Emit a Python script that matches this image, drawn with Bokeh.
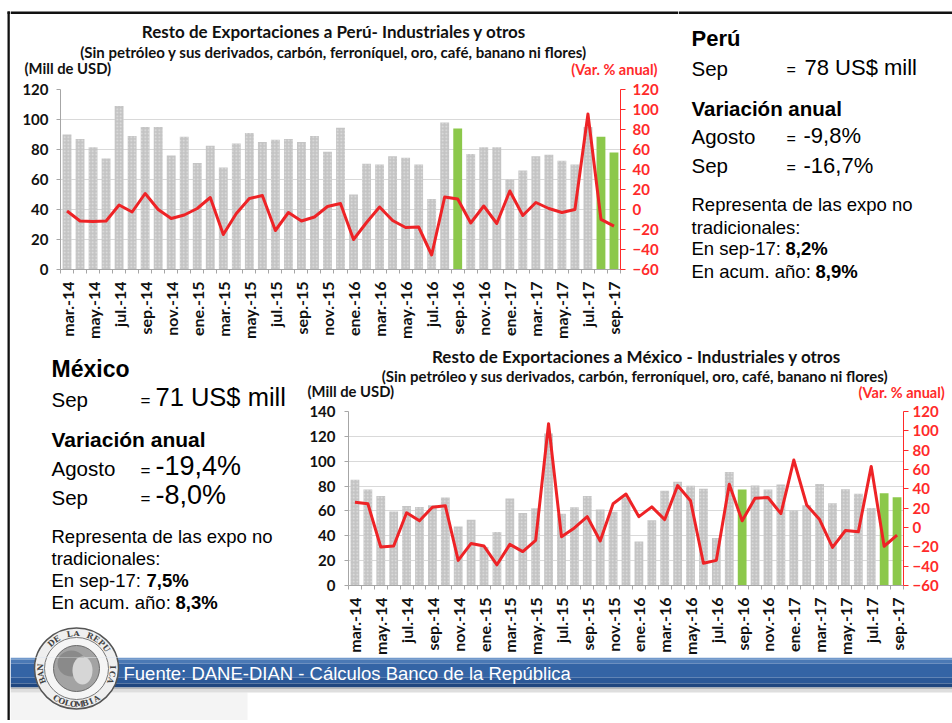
import math
from bokeh.plotting import figure
from bokeh.models import Range1d, LinearAxis, FixedTicker, Grid
from bokeh.layouts import row, column
from bokeh.core.properties import value
from bokeh.embed import file_html
from bokeh.resources import INLINE

# ---------------- data ----------------
months = ["mar.-14", "abr.-14", "may.-14", "jun.-14", "jul.-14", "ago.-14", "sep.-14", "oct.-14",
          "nov.-14", "dic.-14", "ene.-15", "feb.-15", "mar.-15", "abr.-15", "may.-15", "jun.-15",
          "jul.-15", "ago.-15", "sep.-15", "oct.-15", "nov.-15", "dic.-15", "ene.-16", "feb.-16",
          "mar.-16", "abr.-16", "may.-16", "jun.-16", "jul.-16", "ago.-16", "sep.-16", "oct.-16",
          "nov.-16", "dic.-16", "ene.-17", "feb.-17", "mar.-17", "abr.-17", "may.-17", "jun.-17",
          "jul.-17", "ago.-17", "sep.-17"]

peru_usd = [90, 87, 81.5, 74, 109, 89, 95, 95, 76, 88.5,
            71, 82.5, 68, 84, 91, 85, 86.5, 87, 85, 89,
            78.5, 94.5, 50, 70.5, 70, 75.5, 74.5, 70, 47, 98,
            94, 77, 81.5, 81.5, 60, 66, 75.5, 76.5, 72.5, 70,
            95, 88.5, 78]
peru_var = [-1.5, -11.5, -12, -11.5, 4.5, -2.5, 16, 0, -9, -5.5,
            1, 12, -25, -4, 11, 14, -21, -3, -11.5, -7.5,
            3, 6, -30, -13, 2.5, -11, -18, -17.5, -45.5, 12.5,
            10.5, -13.5, 3.5, -14, 18.5, -6, 7, 1, -3, 0,
            95.5, -9.8, -16.7]

mex_usd = [85, 77.3, 72, 59.6, 64, 63.2, 64.5, 70.8, 47.4, 53,
           31, 43, 70, 58.3, 62.2, 122.3, 57.8, 63, 72, 61.1,
           59.3, 71, 35.4, 52.6, 76.3, 83.5, 80.2, 77.8, 38.3, 91.3,
           77.3, 80.4, 77.3, 81.2, 60.4, 64.5, 81.7, 66.1, 77.5, 73.9,
           62.4, 74.2, 71]
mex_var = [26.2, 24.6, -20.2, -19.2, 15.2, 6.9, 21, 22.6, -34, -16.5,
           -19.2, -38.6, -17.5, -24.9, -13.2, 107.3, -9.5, -0.5, 11.2, -13.9,
           24.6, 34.6, 11.2, 21.3, 8.2, 43.4, 27.6, -37, -34, 44.7,
           6.9, 30.3, 31, 14.3, 69.8, 23.3, 8.2, -20.6, -3.1, -4.5,
           63.2, -19.4, -8.0]

highlight = [30, 41, 42]          # sep-16, ago-17, sep-17
peru_left_ticks = [0, 20, 40, 60, 80, 100, 120]
mex_left_ticks = [0, 20, 40, 60, 80, 100, 120, 140]
var_ticks = [-60, -40, -20, 0, 20, 40, 60, 80, 100, 120]

peru_title = "Resto de Exportaciones a Perú- Industriales y otros"
mex_title = "Resto de Exportaciones a México - Industriales y otros"
subtitle = "(Sin petróleo y sus derivados, carbón, ferroníquel, oro, café, banano ni flores)"
unit_left = "(Mill de USD)"
unit_right = "(Var. % anual)"
source = "Fuente: DANE-DIAN - Cálculos Banco de la República"

# ---------------- styles ----------------
GREY = "#c4c4c4"
GREEN = "#8cc84b"
RED = "#ee2326"
LRED = "#ff2a2a"
AXG = "#a6a6a6"
CHART_FONT = "Lato"
TXT_FONT = "Liberation Sans"


def no_align(p):
    try:
        p.frame_align = False
    except Exception:
        pass
    try:
        p.title = None
    except Exception:
        pass


def make_chart(w, h, borders, usd, var, lmax, lticks, lstand, rstand):
    bl, br, bt, bb = borders
    p = figure(width=w, height=h, x_range=Range1d(-0.5, len(months) - 0.5),
               y_range=Range1d(0, lmax), output_backend="svg", toolbar_location=None,
               x_axis_type=None, y_axis_type=None,
               min_border_left=bl, min_border_right=br, min_border_top=bt, min_border_bottom=bb)
    no_align(p)
    p.extra_y_ranges = {"var": Range1d(var_ticks[0], var_ticks[-1])}
    p.outline_line_color = None
    p.background_fill_color = "white"
    p.border_fill_color = "white"

    idx = list(range(len(months)))
    gx = [i for i in idx if i not in highlight]
    gt = [usd[i] for i in gx]
    hx = [i for i in idx if i in highlight]
    ht = [usd[i] for i in hx]

    yl = LinearAxis(ticker=FixedTicker(ticks=lticks))
    yl.axis_line_color = AXG
    yl.major_tick_line_color = AXG
    yl.major_tick_out = 4
    yl.major_tick_in = 0
    yl.major_label_standoff = lstand
    yl.major_label_text_font = CHART_FONT
    yl.major_label_text_font_style = "bold"
    yl.major_label_text_font_size = "15px"
    yl.major_label_text_color = "#111111"
    p.add_layout(yl, "left")

    yr = LinearAxis(y_range_name="var", ticker=FixedTicker(ticks=var_ticks))
    yr.axis_line_color = LRED
    yr.major_tick_line_color = LRED
    yr.major_tick_out = 5
    yr.major_tick_in = 0
    yr.major_label_standoff = rstand
    yr.major_label_text_font = CHART_FONT
    yr.major_label_text_font_style = "bold"
    yr.major_label_text_font_size = "15px"
    yr.major_label_text_color = LRED
    p.add_layout(yr, "right")

    xt = list(range(0, len(months), 2))
    xa = LinearAxis(ticker=FixedTicker(ticks=xt, minor_ticks=[i - 0.5 for i in range(len(months) + 1)]))
    xa.major_label_overrides = {i: months[i] for i in xt}
    xa.major_label_orientation = math.pi / 2
    xa.axis_line_color = AXG
    xa.major_tick_line_color = None
    xa.major_tick_out = 0
    xa.major_tick_in = 0
    xa.minor_tick_line_color = AXG
    xa.minor_tick_out = 4
    xa.minor_tick_in = 0
    xa.major_label_standoff = 8
    xa.major_label_text_font = CHART_FONT
    xa.major_label_text_font_style = "bold"
    xa.major_label_text_font_size = "16px"
    xa.major_label_text_color = "#111111"
    p.add_layout(xa, "below")

    p.add_layout(Grid(dimension=1, ticker=yl.ticker, grid_line_color="#d9d9d9", grid_line_width=1))

    p.vbar(x=gx, top=gt, width=0.68, fill_color=GREY, line_color=None,
           hatch_pattern="dot", hatch_color="white", hatch_alpha=0.5, hatch_scale=3.5, hatch_weight=1)
    p.vbar(x=hx, top=ht, width=0.68, fill_color=GREEN, line_color=None)
    p.line(x=idx, y=var, y_range_name="var", line_color=RED, line_width=3, line_join="round")
    return p


# panels use page pixel coordinates (x right, y down)
def panel(x0, y0, x1, y1):
    w, h = x1 - x0, y1 - y0
    p = figure(width=w, height=h, x_range=Range1d(x0, x1), y_range=Range1d(y1, y0),
               output_backend="svg", toolbar_location=None, x_axis_type=None, y_axis_type=None,
               min_border=0, min_border_left=0, min_border_right=0, min_border_top=0, min_border_bottom=0)
    no_align(p)
    p.outline_line_color = None
    p.grid.visible = False
    p.background_fill_color = "white"
    p.border_fill_color = "white"
    return p


BASE_SHIFT = 0.36   # rendered baseline sits ~0.36 em below the given y


def txt(p, x, y, s, size, bold=False, color="#000000", font=TXT_FONT, align="left"):
    p.text(x=[x], y=[y - BASE_SHIFT * size], text=[s], text_font=value(font),
           text_font_size=f"{size}px",
           text_font_style="bold" if bold else "normal", text_color=color,
           text_align=align, text_baseline="alphabetic")


def top_line(p, x0, x1):
    p.quad(left=[x0], right=[x1], top=[11], bottom=[13.5], fill_color="#111111", line_color=None)


# ---------------- Peru ----------------
head1 = panel(10, 0, 678, 79)
top_line(head1, 10, 678)
txt(head1, 333.5, 37.3, peru_title, 17, True, "#111111", CHART_FONT, "center")
txt(head1, 333, 57.3, subtitle, 15, True, "#111111", CHART_FONT, "center")
txt(head1, 24, 73.3, unit_left, 14.8, True, "#111111", CHART_FONT)
txt(head1, 570.7, 74, unit_right, 14.5, True, LRED, CHART_FONT)

p1 = make_chart(668, 266, (50, 58, 10, 76), peru_usd, peru_var, 120, peru_left_ticks, 8, 7)

t1 = panel(678, 0, 952, 345)
top_line(t1, 678, 952)
txt(t1, 691, 46, "Perú", 22, True)
txt(t1, 691, 75, "Sep", 20.5)
txt(t1, 786, 75, "=", 16)
txt(t1, 804, 75, "78 US$ mill", 22)
txt(t1, 691, 115, "Variación anual", 20.5, True)
txt(t1, 691, 143.3, "Agosto", 20.5)
txt(t1, 786, 143.3, "=", 16)
txt(t1, 803, 143.3, "-9,8%", 22)
txt(t1, 691, 172.7, "Sep", 20.5)
txt(t1, 786, 172.7, "=", 16)
txt(t1, 803, 172.7, "-16,7%", 22)
txt(t1, 691, 211, "Representa de las expo no", 18.5)
txt(t1, 691, 233.3, "tradicionales:", 18.5)
txt(t1, 691, 255, "En sep-17: ", 18.5)
txt(t1, 785, 255, "8,2%", 18.5, True)
txt(t1, 691, 277.3, "En acum. año: ", 18.5)
txt(t1, 815, 277.3, "8,9%", 18.5, True)

# ---------------- Mexico ----------------
head2 = panel(306, 345, 952, 401)
txt(head2, 636, 361.7, mex_title, 17, True, "#111111", CHART_FONT, "center")
txt(head2, 634.5, 380.7, subtitle, 15, True, "#111111", CHART_FONT, "center")
txt(head2, 307, 395.8, unit_left, 14.8, True, "#111111", CHART_FONT)
txt(head2, 858, 396.8, unit_right, 14.5, True, LRED, CHART_FONT)

p2 = make_chart(646, 256, (40, 49, 10, 67), mex_usd, mex_var, 140, mex_left_ticks, 9, 4)

t2 = panel(10, 345, 306, 657)
txt(t2, 51, 376.7, "México", 23, True)
txt(t2, 51, 406, "Sep", 20.5)
txt(t2, 140, 406, "=", 17)
txt(t2, 155, 406, "71 US$ mill", 25.5)
txt(t2, 51, 446.7, "Variación anual", 21, True)
txt(t2, 51, 475.7, "Agosto", 20.5)
txt(t2, 140, 475.7, "=", 17)
txt(t2, 155, 475.7, "-19,4%", 27)
txt(t2, 51, 504, "Sep", 20.5)
txt(t2, 140, 504, "=", 17)
txt(t2, 155, 504, "-8,0%", 27)
txt(t2, 51, 542.7, "Representa de las expo no", 18.5)
txt(t2, 51, 565, "tradicionales:", 18.5)
txt(t2, 51, 586.7, "En sep-17: ", 18.5)
txt(t2, 146, 586.7, "7,5%", 18.5, True)
txt(t2, 51, 608.3, "En acum. año: ", 18.5)
txt(t2, 175, 608.3, "8,3%", 18.5, True)

# ---------------- footer ----------------
foot = panel(10, 657, 952, 720)
foot.quad(left=[10], right=[247], top=[692], bottom=[720], fill_color="#f4f4f4", line_color=None)
strips = [(657, 659, "#7199cc"), (659, 663, "#4b79b5"), (663, 677, "#3464a5"), (677, 683, "#2b5897"),
          (683, 687, "#1f467f"), (687, 689, "#b8b8b8"), (689, 692, "#dedede")]
for a, b, c in strips:
    foot.quad(left=[10], right=[952], top=[a], bottom=[b], fill_color=c, line_color=None)
txt(foot, 123, 680, source, 18.5, color="white")

SPLIT = 657


def logo(p, cx, cy, keep):
    p.ellipse(x=[cx], y=[cy], width=84, height=81, fill_color="#efefef", line_color="#555555", line_width=1.5)
    p.ellipse(x=[cx], y=[cy], width=64, height=62, fill_color="#f5f5f5", line_color="#777777", line_width=1)
    p.ellipse(x=[cx], y=[cy], width=46, height=46, fill_color="#a3a3a3", line_color="#6a6a6a", line_width=1)
    p.ellipse(x=[cx - 5], y=[cy - 5], width=28, height=26, fill_color="#8a8a8a", line_color=None)
    p.ellipse(x=[cx + 6], y=[cy + 2], width=20, height=28, fill_color="#d6d6d6", line_color=None)
    r = 36.5
    xs, ys, ts, ang = [], [], [], []
    top_txt = "BANCO DE LA REPUBLICA"
    n = len(top_txt)
    items = []
    for k, ch in enumerate(top_txt):
        th = math.radians(200 - 220 * k / (n - 1))
        items.append((ch, th, th - math.pi / 2))
    bot = "COLOMBIA"
    m = len(bot)
    for k, ch in enumerate(bot):
        th = math.radians(237 + 66 * k / (m - 1))
        items.append((ch, th, th - 3 * math.pi / 2))
    for ch, th, a in items:
        if ch == " ":
            continue
        x = cx + r * math.cos(th)
        y = cy - r * 0.97 * math.sin(th)
        if keep(y):
            xs.append(x)
            ys.append(y)
            ts.append(ch)
            ang.append(a)
    if ts:
        p.text(x=xs, y=ys, text=ts, angle=ang, text_align="center", text_baseline="middle",
               text_font=value("DejaVu Serif"), text_font_style="bold", text_font_size="8px",
               text_color="#444444")


logo(t2, 76, 668, lambda y: y < SPLIT - 6.5)
logo(foot, 76, 668, lambda y: y > SPLIT + 6.5)

# ---------------- left frame line ----------------
leftbar = panel(0, 0, 10, 720)
leftbar.quad(left=[7], right=[9.3], top=[11], bottom=[720], fill_color="#111111", line_color=None)
leftbar.quad(left=[7], right=[10], top=[11], bottom=[13.5], fill_color="#111111", line_color=None)

layout = row(leftbar,
             column(row(column(head1, p1), t1),
                    row(t2, column(head2, p2)),
                    foot))

open("out.html", "w").write(file_html(layout, INLINE))
